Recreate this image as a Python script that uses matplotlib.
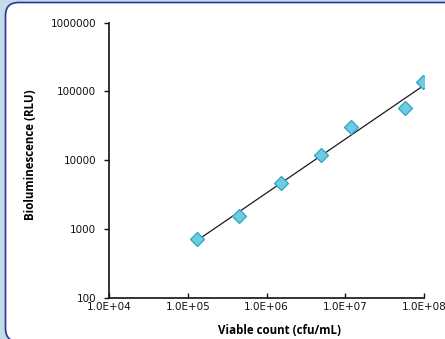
import matplotlib.pyplot as plt
import numpy as np
from matplotlib.patches import FancyBboxPatch
from matplotlib.transforms import IdentityTransform

# viable count (cfu/mL) vs bioluminescence (RLU)
viable_count = [1.31e5, 4.5e5, 1.53e6, 4.9e6, 1.18e7, 5.7e7, 9.7e7]
rlu = [710, 1530, 4650, 11800, 30000, 57000, 137000]

x_ticks = [1e4, 1e5, 1e6, 1e7, 1e8]
x_tick_labels = ["1.0E+04", "1.0E+05", "1.0E+06", "1.0E+07", "1.0E+08"]
y_ticks = [1e2, 1e3, 1e4, 1e5, 1e6]
y_tick_labels = ["100", "1000", "10000", "100000", "1000000"]

W, H = 445, 339
fig = plt.figure(figsize=(W / 100, H / 100), dpi=100, facecolor="#c4dbea")

# white rounded panel with navy border (runs off the right edge)
panel = FancyBboxPatch((5.5, -2.5), 470, H,
                       boxstyle="round,pad=0,rounding_size=13",
                       transform=IdentityTransform(),
                       facecolor="white", edgecolor="#2f3399", linewidth=1.2,
                       zorder=-5)
fig.patches.append(panel)

ax = fig.add_axes([109 / W, (H - 297.5) / H, (424 - 109) / W, (297.5 - 22.7) / H])
ax.set_zorder(2)
ax.set_facecolor("none")
ax.set_xscale("log")
ax.set_yscale("log")
ax.set_xlim(1e4, 1e8)
ax.set_ylim(1e2, 1e6)

# log-log trend line over the data range
lx, ly = np.log10(viable_count), np.log10(rlu)
slope, icpt = np.polyfit(lx, ly, 1)
fx = np.array([lx.min(), lx.max()])
ax.plot(10 ** fx, 10 ** (slope * fx + icpt), color="#1a1a1a", lw=0.9, zorder=2)

ax.plot(viable_count, rlu, ls="none", marker="D", ms=6.8,
        mfc="#6ecbe0", mec="#27a6c6", mew=0.9, zorder=3)

for s in ("top", "right"):
    ax.spines[s].set_visible(False)
for s in ("left", "bottom"):
    ax.spines[s].set_linewidth(1.2)
    ax.spines[s].set_color("#111111")

ax.set_xticks(x_ticks)
ax.set_xticklabels(x_tick_labels)
ax.set_yticks(y_ticks)
ax.set_yticklabels(y_tick_labels)
ax.minorticks_off()
ax.tick_params(axis="x", direction="in", length=3.6, width=1, pad=3, labelsize=7.5, colors="#111111")
ax.tick_params(axis="y", direction="out", length=3.6, width=1, pad=5.5, labelsize=7.5, colors="#111111")

ax.set_xlabel("Viable count (cfu/mL)", family="Open Sans", weight="bold", fontsize=8.3)
ax.xaxis.set_label_coords((280 - 109) / (424 - 109), -(330 - 297.5) / (297.5 - 22.7))
ax.set_ylabel("Bioluminescence (RLU)", family="Open Sans", weight="bold", fontsize=8.3)
ax.yaxis.set_label_coords(-(109 - 31) / (424 - 109), (297.5 - 155) / (297.5 - 22.7))
ax.xaxis.label.set_va("center")
ax.yaxis.label.set_va("center")

fig.savefig("out.png", dpi=100, facecolor=fig.get_facecolor())
